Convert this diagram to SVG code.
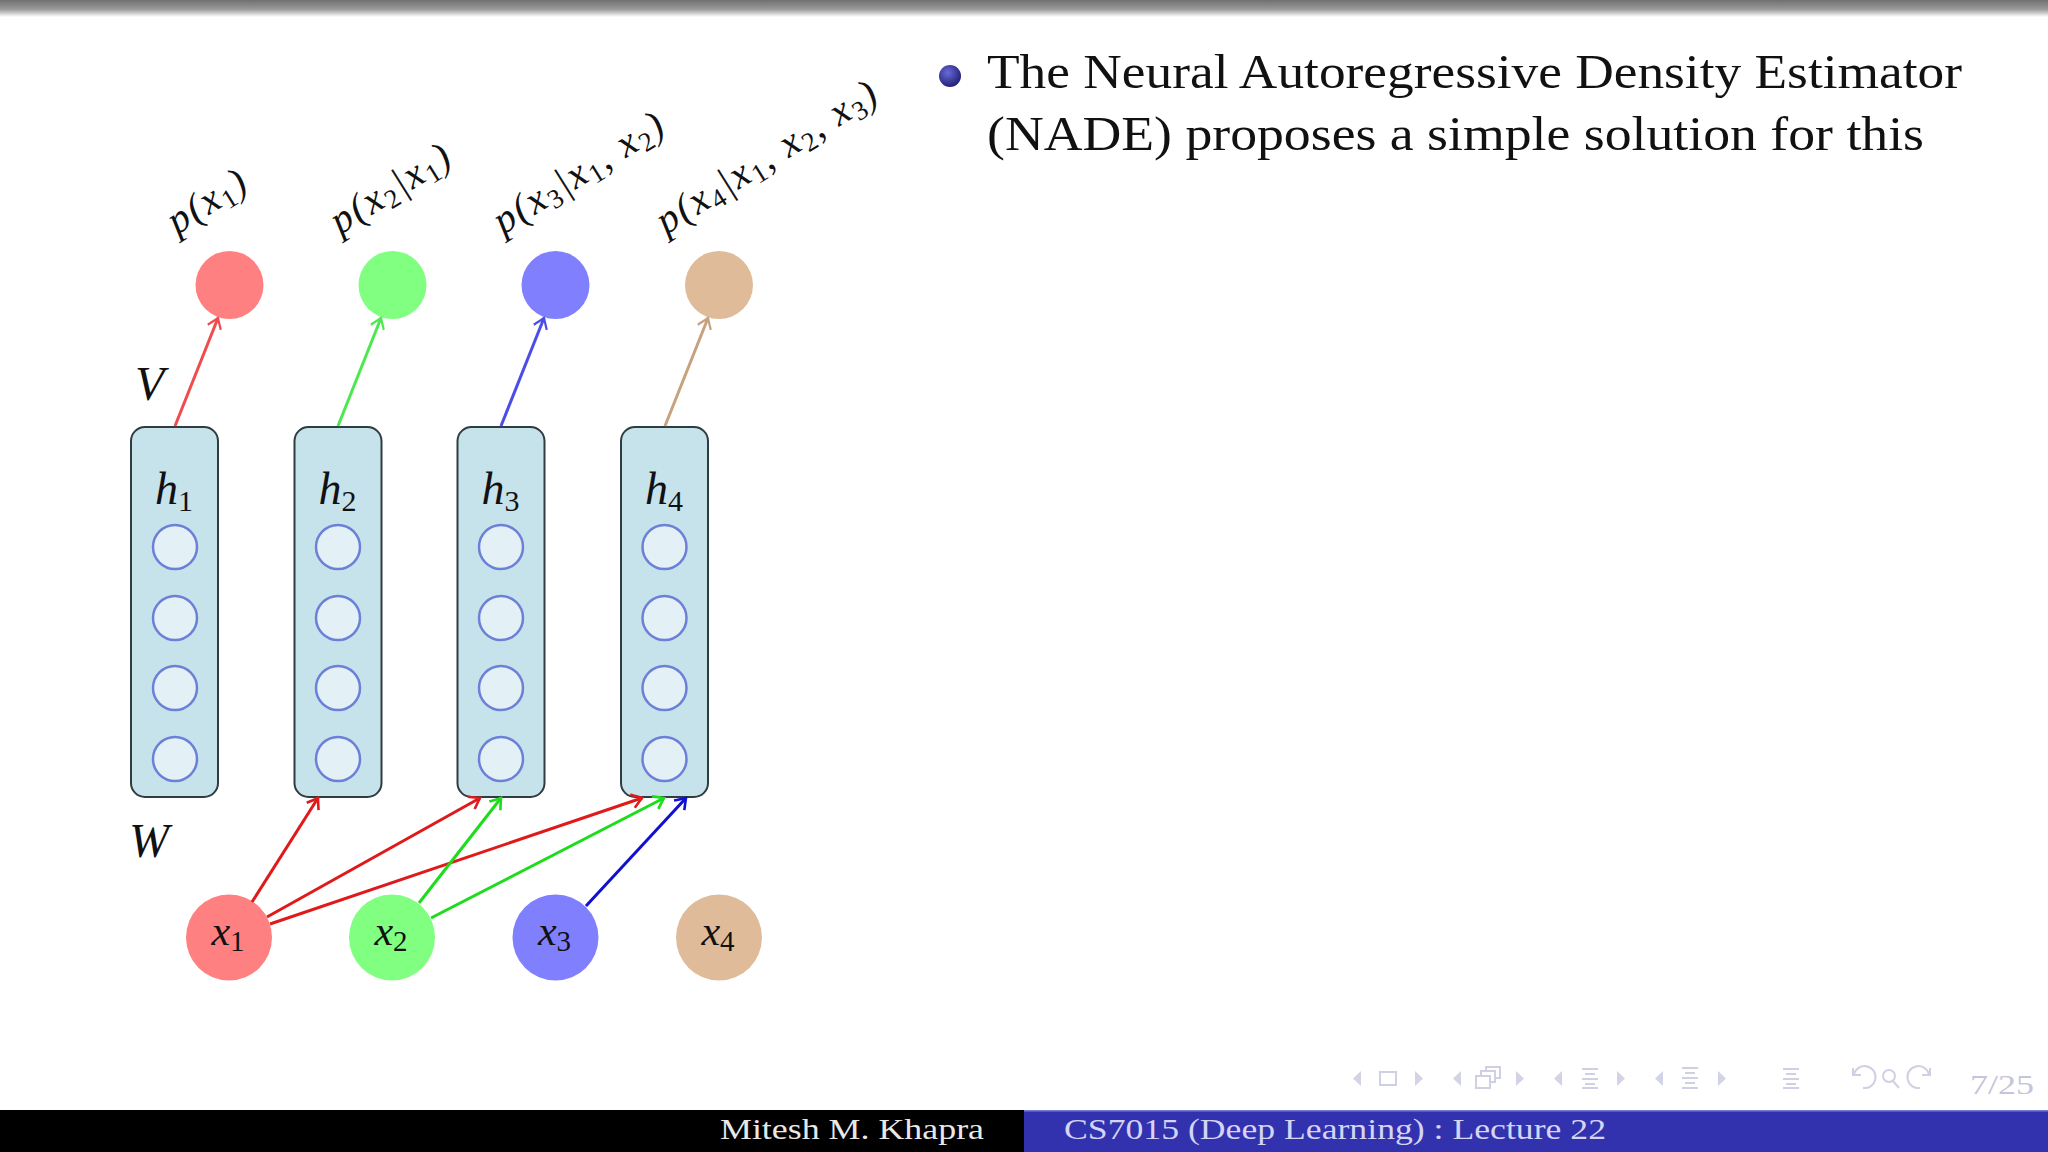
<svg xmlns="http://www.w3.org/2000/svg" width="2048" height="1152" viewBox="0 0 2048 1152">
<style>
text{font-family:"Liberation Serif","DejaVu Serif",serif;fill:#111}
.m{font-style:italic}
.s{font-style:normal}
.box{fill:#c6e3ec;stroke:#2f3c40;stroke-width:2}
.unit{fill:#e3f1f6;stroke:#6c80d8;stroke-width:2.5}
.lab{font-size:40px;letter-spacing:2px}
.h{font-size:46px;text-anchor:middle}
.x{font-size:42px;text-anchor:middle}
.c{fill:none;stroke-width:3}
.i{fill:#d3d3e6;stroke:none}
.il{fill:none;stroke:#d0d0e4;stroke-width:2}
.ft{font-size:29px}
.body{font-size:48px}
</style>
<defs>
<linearGradient id="bar" x1="0" y1="0" x2="0" y2="1"><stop offset="0" stop-color="#707070"/><stop offset="0.55" stop-color="#9a9a9a"/><stop offset="1" stop-color="#ffffff"/></linearGradient>
<radialGradient id="ball" cx="0.4" cy="0.35" r="0.7"><stop offset="0" stop-color="#6a6ad8"/><stop offset="1" stop-color="#1c1c70"/></radialGradient>
<marker id="ar" markerUnits="userSpaceOnUse" markerWidth="20" markerHeight="20" refX="14" refY="10" orient="auto"><path d="M4,3 Q11,8 14,10 Q11,12 4,17" fill="none" stroke="#f04c4c" stroke-width="2.2"/></marker>
<marker id="ag" markerUnits="userSpaceOnUse" markerWidth="20" markerHeight="20" refX="14" refY="10" orient="auto"><path d="M4,3 Q11,8 14,10 Q11,12 4,17" fill="none" stroke="#4de84d" stroke-width="2.2"/></marker>
<marker id="ab" markerUnits="userSpaceOnUse" markerWidth="20" markerHeight="20" refX="14" refY="10" orient="auto"><path d="M4,3 Q11,8 14,10 Q11,12 4,17" fill="none" stroke="#4c4ce8" stroke-width="2.2"/></marker>
<marker id="at" markerUnits="userSpaceOnUse" markerWidth="20" markerHeight="20" refX="14" refY="10" orient="auto"><path d="M4,3 Q11,8 14,10 Q11,12 4,17" fill="none" stroke="#c8a27e" stroke-width="2.2"/></marker>
<marker id="br" markerUnits="userSpaceOnUse" markerWidth="20" markerHeight="20" refX="14" refY="10" orient="auto"><path d="M4,3 Q11,8 14,10 Q11,12 4,17" fill="none" stroke="#e01a1a" stroke-width="2.6"/></marker>
<marker id="bg" markerUnits="userSpaceOnUse" markerWidth="20" markerHeight="20" refX="14" refY="10" orient="auto"><path d="M4,3 Q11,8 14,10 Q11,12 4,17" fill="none" stroke="#1cdc1c" stroke-width="2.6"/></marker>
<marker id="bb" markerUnits="userSpaceOnUse" markerWidth="20" markerHeight="20" refX="14" refY="10" orient="auto"><path d="M4,3 Q11,8 14,10 Q11,12 4,17" fill="none" stroke="#1010d0" stroke-width="2.6"/></marker>
</defs>
<rect width="2048" height="1152" fill="#fff"/>
<rect id="top-bar" width="2048" height="17" fill="url(#bar)"/>

<g id="labels">
<text class="lab m" transform="translate(177 235) rotate(-32)">p(x<tspan class="s" font-size="27" dy="6">1</tspan><tspan dy="-6">)</tspan></text>
<text class="lab m" transform="translate(340 235) rotate(-32)">p(x<tspan class="s" font-size="27" dy="6">2</tspan><tspan dy="-6">|x</tspan><tspan class="s" font-size="27" dy="6">1</tspan><tspan dy="-6">)</tspan></text>
<text class="lab m" transform="translate(503 235) rotate(-32)">p(x<tspan class="s" font-size="27" dy="6">3</tspan><tspan dy="-6">|x</tspan><tspan class="s" font-size="27" dy="6">1</tspan><tspan class="s" dy="-6">, </tspan><tspan>x</tspan><tspan class="s" font-size="27" dy="6">2</tspan><tspan dy="-6">)</tspan></text>
<text class="lab m" transform="translate(666 235) rotate(-32)">p(x<tspan class="s" font-size="27" dy="6">4</tspan><tspan dy="-6">|x</tspan><tspan class="s" font-size="27" dy="6">1</tspan><tspan class="s" dy="-6">, </tspan><tspan>x</tspan><tspan class="s" font-size="27" dy="6">2</tspan><tspan class="s" dy="-6">, </tspan><tspan>x</tspan><tspan class="s" font-size="27" dy="6">3</tspan><tspan dy="-6">)</tspan></text>
<text class="m" x="135" y="400" font-size="48">V</text>
<text class="m" x="129" y="857" font-size="48">W</text>
</g>

<g id="outputs">
<circle id="p1" cx="229.5" cy="285" r="34" fill="#ff8080"/>
<circle id="p2" cx="392.5" cy="285" r="34" fill="#80ff80"/>
<circle id="p3" cx="555.5" cy="285" r="34" fill="#8080ff"/>
<circle id="p4" cx="719" cy="285" r="34" fill="#dfbb99"/>
</g>

<g id="h1"><rect class="box" x="131" y="427" width="87" height="370" rx="14"/><text class="h m" x="174" y="504">h<tspan class="s" font-size="30" dy="7">1</tspan></text><circle class="unit" cx="175" cy="547" r="22"/><circle class="unit" cx="175" cy="618" r="22"/><circle class="unit" cx="175" cy="688" r="22"/><circle class="unit" cx="175" cy="759" r="22"/></g>
<g id="h2"><rect class="box" x="294.5" y="427" width="87" height="370" rx="14"/><text class="h m" x="337.5" y="504">h<tspan class="s" font-size="30" dy="7">2</tspan></text><circle class="unit" cx="338" cy="547" r="22"/><circle class="unit" cx="338" cy="618" r="22"/><circle class="unit" cx="338" cy="688" r="22"/><circle class="unit" cx="338" cy="759" r="22"/></g>
<g id="h3"><rect class="box" x="457.5" y="427" width="87" height="370" rx="14"/><text class="h m" x="500.5" y="504">h<tspan class="s" font-size="30" dy="7">3</tspan></text><circle class="unit" cx="501" cy="547" r="22"/><circle class="unit" cx="501" cy="618" r="22"/><circle class="unit" cx="501" cy="688" r="22"/><circle class="unit" cx="501" cy="759" r="22"/></g>
<g id="h4"><rect class="box" x="621" y="427" width="87" height="370" rx="14"/><text class="h m" x="664" y="504">h<tspan class="s" font-size="30" dy="7">4</tspan></text><circle class="unit" cx="664.5" cy="547" r="22"/><circle class="unit" cx="664.5" cy="618" r="22"/><circle class="unit" cx="664.5" cy="688" r="22"/><circle class="unit" cx="664.5" cy="759" r="22"/></g>

<g id="x1"><circle cx="229" cy="937.5" r="43" fill="#ff8080"/><text class="x m" x="228" y="945">x<tspan class="s" font-size="29" dy="6">1</tspan></text></g>
<g id="x2"><circle cx="392" cy="937.5" r="43" fill="#80ff80"/><text class="x m" x="391" y="945">x<tspan class="s" font-size="29" dy="6">2</tspan></text></g>
<g id="x3"><circle cx="555.5" cy="937.5" r="43" fill="#8080ff"/><text class="x m" x="554.5" y="945">x<tspan class="s" font-size="29" dy="6">3</tspan></text></g>
<g id="x4"><circle cx="719" cy="937.5" r="43" fill="#dfbb99"/><text class="x m" x="718" y="945">x<tspan class="s" font-size="29" dy="6">4</tspan></text></g>

<g id="connectors">
<line class="c" x1="175" y1="426" x2="218" y2="318" stroke="#f04c4c" marker-end="url(#ar)"/>
<line class="c" x1="338" y1="426" x2="381" y2="318" stroke="#4de84d" marker-end="url(#ag)"/>
<line class="c" x1="501" y1="426" x2="544" y2="318" stroke="#4c4ce8" marker-end="url(#ab)"/>
<line class="c" x1="665" y1="426" x2="708" y2="318" stroke="#c8a27e" marker-end="url(#at)"/>
<line class="c" x1="252" y1="902" x2="318" y2="798" stroke="#e01a1a" marker-end="url(#br)"/>
<line class="c" x1="267" y1="917" x2="480" y2="798" stroke="#e01a1a" marker-end="url(#br)"/>
<line class="c" x1="270" y1="924" x2="642" y2="798" stroke="#e01a1a" marker-end="url(#br)"/>
<line class="c" x1="419" y1="903" x2="501" y2="798" stroke="#1cdc1c" marker-end="url(#bg)"/>
<line class="c" x1="431" y1="918" x2="664" y2="798" stroke="#1cdc1c" marker-end="url(#bg)"/>
<line class="c" x1="586" y1="906" x2="686" y2="798" stroke="#1010d0" marker-end="url(#bb)"/>
</g>

<g id="bullet-text">
<circle cx="950" cy="76" r="11" fill="url(#ball)"/>
<text class="body" x="987" y="88" textLength="975" lengthAdjust="spacingAndGlyphs">The Neural Autoregressive Density Estimator</text>
<text class="body" x="987" y="150" textLength="937" lengthAdjust="spacingAndGlyphs">(NADE) proposes a simple solution for this</text>
</g>

<g id="nav">
<path class="i" d="M1361,1071v15l-8,-7.5zM1415,1071v15l8,-7.5zM1461,1071v15l-8,-7.5zM1516,1071v15l8,-7.5zM1562,1071v15l-8,-7.5zM1617,1071v15l8,-7.5zM1663,1071v15l-8,-7.5zM1718,1071v15l8,-7.5z"/>
<rect class="il" x="1380" y="1072" width="16" height="13"/>
<path class="il" d="M1476,1076h14v12h-14zM1481,1076v-5h14v11h-5M1486,1071v-4h14v11h-5"/>
<path class="il" d="M1582,1069h16M1585,1074h10M1582,1079h16M1585,1084h10M1582,1088h16"/>
<path class="il" d="M1682,1068h16M1685,1073h10M1682,1078h16M1685,1083h10M1682,1088h16"/>
<path class="il" d="M1783,1069h16M1786,1074h10M1783,1079h16M1786,1084h10M1783,1088h16" stroke-width="2.6"/>
<path class="il" d="M1854,1074a11,11 0 1 1 9,14M1853,1068v7h8"/>
<circle class="il" cx="1889" cy="1076" r="6"/><path class="il" d="M1893,1081l6,7"/>
<path class="il" d="M1929,1074a11,11 0 1 0 -9,14M1930,1068v7h-8"/>
<text x="1970" y="1094" font-size="28" style="fill:#c4c4da" textLength="64" lengthAdjust="spacingAndGlyphs">7/25</text>
</g>

<g id="footer">
<rect x="0" y="1110" width="1024" height="42" fill="#000"/>
<rect x="1024" y="1110" width="1024" height="42" fill="#3232ae"/>
<rect x="1024" y="1110" width="1024" height="1.5" fill="#7a7ad0"/>
<text class="ft" x="720" y="1139" textLength="264" lengthAdjust="spacingAndGlyphs" style="fill:#e8e8e8">Mitesh M. Khapra</text>
<text class="ft" x="1064" y="1139" textLength="542" lengthAdjust="spacingAndGlyphs" style="fill:#d4d4f4">CS7015 (Deep Learning) : Lecture 22</text>
</g>
</svg>
